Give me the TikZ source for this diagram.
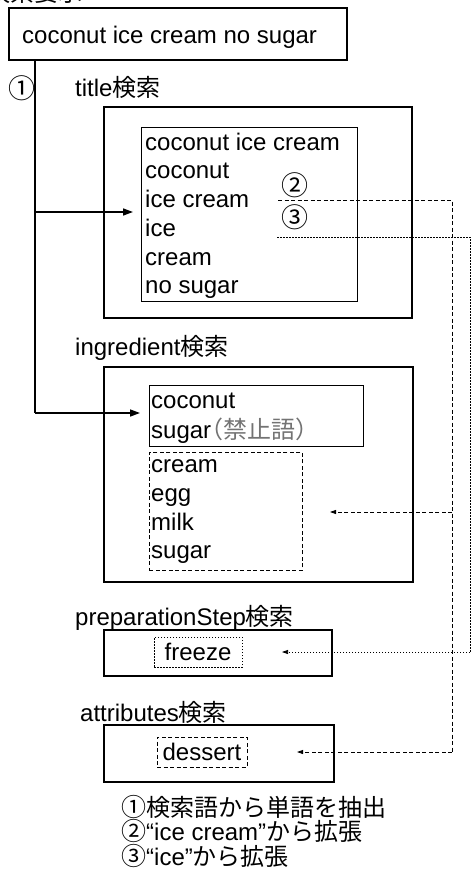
\documentclass[tikz,border=0pt]{standalone}
\usepackage{fontspec}
\setmainfont{Liberation Sans}
\newfontfamily\jp{Noto Sans CJK JP}
\newfontfamily\jph[RawFeature=+halt]{Noto Sans CJK JP}
\newcommand\cnum[1]{{\jp\fontsize{27}{27}\selectfont #1}}
\newcommand\lnum[1]{{\jp\fontsize{25}{22}\selectfont #1}}
\usetikzlibrary{arrows.meta}
\begin{document}
\begin{tikzpicture}[x=1pt,y=-1pt,
  txt/.style={font=\fontsize{24}{28}\selectfont, inner sep=0pt, anchor=base west},
  lbl/.style={font=\fontsize{24}{28}\selectfont, inner sep=0pt, anchor=base west},
  outerbox/.style={draw, line width=1.8pt, inner sep=0pt, anchor=north west},
  innerbox/.style={draw, line width=0.9pt, inner sep=0pt, anchor=north west},
  dashbox/.style={draw, line width=0.8pt, dash pattern=on 4pt off 2.5pt, inner sep=0pt, anchor=north west},
  dotbox/.style={draw, line width=0.7pt, dash pattern=on 1.5pt off 1.5pt, inner sep=0pt},
  dashbox2/.style={draw, line width=0.8pt, dash pattern=on 4pt off 2.5pt, inner sep=0pt},
  mainline/.style={line width=1.5pt},
  arr/.style={line width=1.5pt, -{Triangle[length=10pt,width=7pt]}},
  dashline/.style={line width=0.8pt, dash pattern=on 4pt off 2.5pt},
  dotline/.style={line width=0.7pt, dash pattern=on 1.5pt off 1.5pt},
  darr/.style={dashline, -{Triangle[length=6pt,width=4pt]}},
  dotarr/.style={dotline, -{Triangle[length=6pt,width=4pt]}}
]
\useasboundingbox (0,0) rectangle (472,880);
\clip (0,0) rectangle (472,880);

% clipped heading
\node[lbl] (head) at (-14,2) {\jp 検索要求};

% query box
\node[outerbox, minimum width=338pt, minimum height=52pt] (query) at (8,7) {};
\node[txt] (qtext) at (22,43.5) {coconut ice cream no sugar};
\node[lbl, anchor=center] (n1) at (22,88) {\cnum{①}};

% title search
\node[lbl] (tlabel) at (75,96.5) {title{\jp 検索}};
\node[outerbox, minimum width=308pt, minimum height=211pt] (tOuter) at (103,106) {};
\node[innerbox, minimum width=216pt, minimum height=174pt] (tInner) at (141,127) {};
\node[txt] (t1) at (145,150.5) {coconut ice cream};
\node[txt] (t2) at (145,178.5) {coconut};
\node[txt] (t3) at (145,207.5) {ice cream};
\node[txt] (t4) at (145,236.5) {ice};
\node[txt] (t5) at (145,265.5) {cream};
\node[txt] (t6) at (145,293.5) {no sugar};
\node[lbl, anchor=center] (n2) at (295,185) {\cnum{②}};
\node[lbl, anchor=center] (n3) at (295,217) {\cnum{③}};

% ingredient search
\node[lbl] (ilabel) at (75,355.5) {ingredient{\jp 検索}};
\node[outerbox, minimum width=309pt, minimum height=215pt] (iOuter) at (103,366) {};
\node[innerbox, minimum width=214pt, minimum height=61pt] (iInner) at (149,385) {};
\node[txt] (i1) at (151,408.5) {coconut};
\node[txt] (i2) at (151,438.5) {sugar{\jph\color{black!55}（禁止語）}};
\node[dashbox, minimum width=153pt, minimum height=118pt] (iDash) at (149,452) {};
\node[txt] (e1) at (151,472.5) {cream};
\node[txt] (e2) at (151,501.5) {egg};
\node[txt] (e3) at (151,530.5) {milk};
\node[txt] (e4) at (151,558.5) {sugar};

% preparationStep search
\node[lbl] (plabel) at (75,625.5) {preparationStep{\jp 検索}};
\node[outerbox, minimum width=228pt, minimum height=46pt] (pOuter) at (103,629) {};
\node[dotbox, font=\fontsize{24}{28}\selectfont, minimum width=88pt, minimum height=30pt] (freeze) at (198,652) {freeze};

% attributes search
\node[lbl] (alabel) at (80,721.5) {attributes{\jp 検索}};
\node[outerbox, minimum width=230pt, minimum height=57pt] (aOuter) at (103,724) {};
\node[dashbox2, font=\fontsize{24}{28}\selectfont, minimum width=90pt, minimum height=30pt] (dessert) at (202,752) {dessert};

% legend (one text block; base = last line)
\node[lbl, font=\fontsize{24}{22}\selectfont, align=left] (legend) at (121,865)
  {\lnum{①}{\jp 検索語から単語を抽出}\\
   \lnum{②}“ice cream”{\jp から拡張}\\
   \lnum{③}“ice”{\jp から拡張}};

% main connectors
\coordinate (j1) at (35,212);
\coordinate (j2) at (35,413);
\draw[mainline] (query.south -| j1) -- (j2);
\draw[arr, shorten >=8pt] (j1) -- (tInner.west |- j1);
\draw[arr, shorten >=9pt] (j2) -- (iInner.west |- j2);

% expansion from "ice cream"
\coordinate (d0) at (278,200);
\coordinate (d1) at (452,200);
\coordinate (d2) at (452,512);
\coordinate (d3) at (452,752);
\coordinate (dIng) at (330,512);
\coordinate (dAtt) at (297,752);
\draw[dashline] (d0) -- (d1) -- (d3);
\draw[darr] (d2) -- (dIng);
\draw[darr] (d3) -- (dAtt);

% expansion from "ice"
\coordinate (o0) at (277,237);
\coordinate (o1) at (470,237);
\coordinate (o2) at (470,652);
\coordinate (oPrep) at (282,652);
\draw[dotline] (o0) -- (o1) -- (o2);
\draw[dotarr] (o2) -- (oPrep);
\end{tikzpicture}
\end{document}
